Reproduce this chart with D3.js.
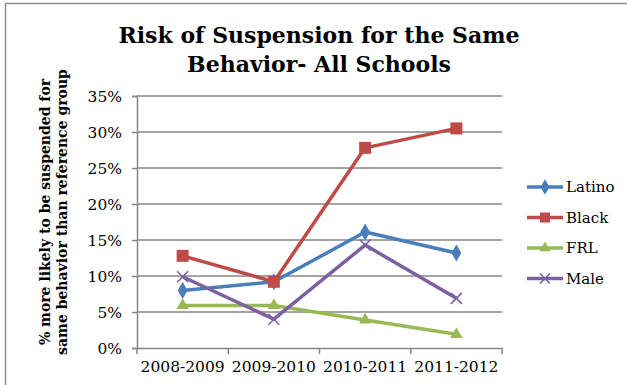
<!DOCTYPE html>
<html>
<head>
<meta charset="utf-8">
<script src="https://cdn.jsdelivr.net/npm/d3@7"></script>
<style>
  body { margin: 0; background: #fff; }
  text { font-family: "DejaVu Serif", "Liberation Serif", serif; fill: #000; }
  .title { font-weight: bold; font-size: 22px; }
  .axisTitle { font-weight: bold; font-size: 14px; }
  .tick text { font-size: 15.5px; }
  .legend text { font-size: 15px; }
</style>
</head>
<body>
<div id="chart"></div>
<script>
// years on the x axis
var years = ["2008-2009", "2009-2010", "2010-2011", "2011-2012"];
var yTicks = [0, 0.05, 0.10, 0.15, 0.20, 0.25, 0.30, 0.35];

// series values
var latino = [0.080, 0.092, 0.161, 0.132];
var black = [0.128, 0.092, 0.278, 0.305];
var frl = [0.059, 0.059, 0.039, 0.019];
var male = [0.099, 0.040, 0.143, 0.069];

var seriesNames = ["Latino", "Black", "FRL", "Male"];
var seriesColors = ["#4a7ebb", "#be4b48", "#98b954", "#7d60a0"];
var seriesShapes = ["diamond", "square", "triangle", "cross"];

var width = 627,
    height = 385;

var svg = d3.select("#chart")
    .append("svg")
    .attr("width", width)
    .attr("height", height)

// outer chart border
svg.append("rect")
    .attr("x", 5.5)
    .attr("y", 3.5)
    .attr("width", 640)
    .attr("height", 400)
    .attr("fill", "none")
    .attr("stroke", "#8c8c8c")
    .attr("stroke-width", 1.5)

var x = d3.scaleBand()
    .domain(years)
    .range([137, 502])

var y = d3.scaleLinear()
    .domain([0, 0.35])
    .range([348, 96])

// gridlines
svg.append("g")
    .selectAll("line")
    .data(yTicks.slice(1))
    .enter()
    .append("line")
    .attr("x1", 137)
    .attr("x2", 502)
    .attr("y1", d => y(d))
    .attr("y2", d => y(d))
    .attr("stroke", "#868686")
    .attr("stroke-width", 1.5)

// y axis
var yAxis = svg.append("g")
    .attr("transform", "translate(137,0)")
    .call(d3.axisLeft(y).tickValues(yTicks).tickFormat(d3.format(".0%")).tickSize(5).tickPadding(10))
yAxis.select(".domain").attr("stroke", "#868686").attr("stroke-width", 1.5)
yAxis.selectAll(".tick line").attr("stroke", "#868686").attr("stroke-width", 1.5)
yAxis.selectAll(".tick text").attr("font-family", null).attr("font-size", null).attr("dy", "0.35em")

// x axis
var xAxis = svg.append("g")
    .attr("transform", "translate(0,348)")
    .call(d3.axisBottom(x).tickSize(0).tickPadding(13))
xAxis.select(".domain").attr("stroke", "#868686").attr("stroke-width", 1.5)
xAxis.selectAll(".tick text").attr("font-family", null).attr("font-size", null)

// category boundary ticks on x axis
svg.append("g")
    .selectAll("line")
    .data(years.concat([null]))
    .enter()
    .append("line")
    .attr("x1", (d, i) => 137 + i * x.step())
    .attr("x2", (d, i) => 137 + i * x.step())
    .attr("y1", 348)
    .attr("y2", 354)
    .attr("stroke", "#868686")
    .attr("stroke-width", 1.5)

var line = d3.line()
    .x((d, i) => x(years[i]) + x.bandwidth() / 2)
    .y(d => y(d))

function marker(g, shape, color, size) {
    if (shape == "cross") {
        var s = size / 2;
        g.append("path")
            .attr("d", "M" + (-s) + "," + (-s) + "L" + s + "," + s + "M" + (-s) + "," + s + "L" + s + "," + (-s))
            .attr("stroke", color)
            .attr("stroke-width", 1.6)
            .attr("fill", "none")
    } else {
        var type = shape == "diamond" ? d3.symbolDiamond : shape == "square" ? d3.symbolSquare : d3.symbolTriangle;
        var area = shape == "diamond" ? size * size * 0.7 : shape == "square" ? size * size : size * size * 0.55;
        g.append("path")
            .attr("d", d3.symbol().type(type).size(area))
            .attr("fill", color)
    }
}

var allSeries = [latino, black, frl, male];

// lines then markers, series order as drawn in the original
allSeries.forEach(function(values, k) {
    var g = svg.append("g");
    g.append("path")
        .datum(values)
        .attr("d", line)
        .attr("fill", "none")
        .attr("stroke", seriesColors[k])
        .attr("stroke-width", 3.5)
        .attr("stroke-linejoin", "round")

    values.forEach(function(v, i) {
        var m = g.append("g")
            .attr("transform", "translate(" + (x(years[i]) + x.bandwidth() / 2) + "," + y(v) + ")")
        marker(m, seriesShapes[k], seriesColors[k], shapeSize(seriesShapes[k]))
    })
})

function shapeSize(shape) {
    return shape == "square" ? 12 : 11;
}

// legend
var legend = svg.append("g").attr("class", "legend")
seriesNames.forEach(function(name, k) {
    var ly = 187 + k * 30.5;
    legend.append("line")
        .attr("x1", 527)
        .attr("x2", 563)
        .attr("y1", ly)
        .attr("y2", ly)
        .attr("stroke", seriesColors[k])
        .attr("stroke-width", 3.5)
    var m = legend.append("g").attr("transform", "translate(545," + ly + ")")
    marker(m, seriesShapes[k], seriesColors[k], 10)
    legend.append("text")
        .attr("x", 566)
        .attr("y", ly)
        .attr("dy", "0.35em")
        .text(name)
})

// title
svg.append("text")
    .attr("class", "title")
    .attr("text-anchor", "middle")
    .attr("x", 319)
    .attr("y", 43)
    .text("Risk of Suspension for the Same")
svg.append("text")
    .attr("class", "title")
    .attr("text-anchor", "middle")
    .attr("x", 319)
    .attr("y", 72)
    .text("Behavior- All Schools")

// y axis title
var yt = svg.append("text")
    .attr("class", "axisTitle")
    .attr("text-anchor", "middle")
    .attr("transform", "translate(50,212) rotate(-90)")
yt.append("tspan").attr("x", 0).attr("y", 0).text("% more likely to be suspended for")
yt.append("tspan").attr("x", 0).attr("y", 17).text("same behavior than reference group")
</script>
</body>
</html>
